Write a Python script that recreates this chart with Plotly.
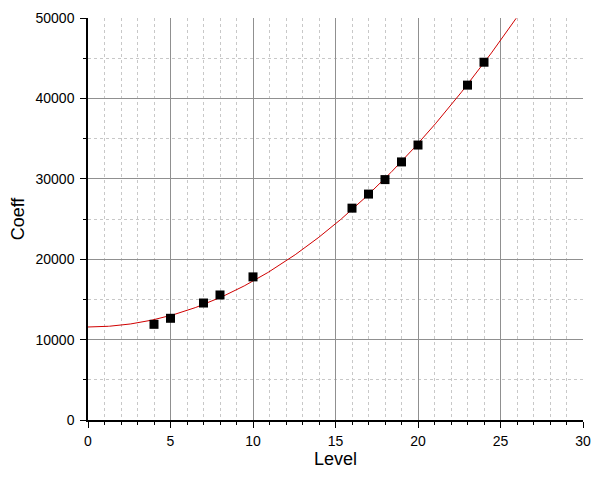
import numpy as np
import plotly.graph_objects as go

level = [4, 5, 7, 8, 10, 16, 17, 18, 19, 20, 23, 24]
coeff = [11900, 12650, 14550, 15550, 17800, 26350, 28100, 29900, 32100, 34200, 41650, 44500]

# least-squares fit of the data: coeff = c + a * level^2
X = np.column_stack([np.ones(len(level)), np.array(level, float) ** 2])
c, a = np.linalg.lstsq(X, np.array(coeff, float), rcond=None)[0]
fit_x = np.linspace(0, 30, 601)
fit_y = c + a * fit_x ** 2
mask = fit_y <= 50000
fit_x = fit_x[mask]
fit_y = fit_y[mask]

fig = go.Figure()
fig.add_trace(go.Scatter(x=fit_x, y=fit_y, mode="lines",
                         line=dict(color="#d00000", width=1), hoverinfo="skip"))
fig.add_trace(go.Scatter(x=level, y=coeff, mode="markers",
                         marker=dict(symbol="square", size=9, color="black")))

fig.update_layout(
    width=609, height=482,
    margin=dict(l=80, r=34, t=10, b=70),
    paper_bgcolor="white", plot_bgcolor="white",
    showlegend=False,
    font=dict(family="Arial, Liberation Sans", size=14, color="black"),
)
fig.update_xaxes(
    range=[0, 30], tick0=0, dtick=5, ticks="outside", ticklen=6, tickcolor="black",
    showline=True, linecolor="black", linewidth=1.5, automargin=False,
    ticklabelstandoff=1,
    showgrid=True, gridcolor="#909090", gridwidth=1, zeroline=False,
    minor=dict(dtick=1, ticks="outside", ticklen=3, tickcolor="black",
               showgrid=True, gridcolor="#c8c8c8", griddash="dot", gridwidth=1),
    title=dict(text="Level", font=dict(size=18), standoff=4),
)
fig.update_yaxes(
    range=[0, 50000], tick0=0, dtick=10000, tickformat="d",
    ticks="outside", ticklen=6, tickcolor="black",
    showline=True, linecolor="black", linewidth=1.5, automargin=False,
    ticklabelstandoff=3,
    showgrid=True, gridcolor="#909090", gridwidth=1, zeroline=False,
    minor=dict(dtick=5000, ticks="outside", ticklen=3, tickcolor="black",
               showgrid=True, gridcolor="#c8c8c8", griddash="dot", gridwidth=1),
    title=dict(text="Coeff", font=dict(size=18), standoff=12),
)
fig.write_html("out.html")
